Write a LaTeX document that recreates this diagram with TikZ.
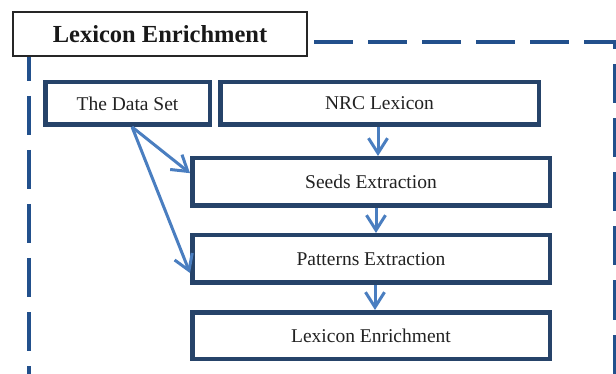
\documentclass[tikz,border=0pt]{standalone}
\usepackage{fontspec}
\setmainfont{Liberation Serif}
\usetikzlibrary{arrows.meta,calc}
\definecolor{dashblue}{HTML}{22508C}
\definecolor{boxnavy}{HTML}{264369}
\definecolor{arrblue}{HTML}{4A7EC0}
\definecolor{txt}{HTML}{222222}
\tikzset{
  dashline/.style={draw=dashblue,line width=4.5pt,dash pattern=on 39pt off 15pt},
  stepbox/.style={draw=boxnavy,fill=white,line width=4.5pt,rectangle,inner sep=0pt,
    text=txt,font=\fontsize{19.5}{23}\selectfont},
  titlebox/.style={draw=black!85,fill=white,line width=1.6pt,rectangle,inner sep=0pt,
    minimum width=294pt,minimum height=44pt,font=\bfseries\fontsize{24.5}{28}\selectfont,text=black!90},
  arr/.style={draw=arrblue,line width=3pt,-{Straight Barb[length=15pt,width=19pt]}}
}
\begin{document}
\begin{tikzpicture}[x=1pt,y=-1pt]
\useasboundingbox (0,0) rectangle (616,374);
\clip (0,0) rectangle (616,374);
% dashed frame
\draw[dashline] (29,42) -- (29,400);
\draw[dashline,dash phase=39pt] (29,42) -- (615.5,42) -- (615.5,400);
% title
\node[titlebox] (title) at (160,34) {Lexicon Enrichment};
% boxes
\node[stepbox,minimum width=164.5pt,minimum height=42.5pt] (ds) at (127.5,103.5) {The Data Set};
\node[stepbox,minimum width=318.5pt,minimum height=42.5pt] (nrc) at (379.5,103.5) {NRC Lexicon};
\node[stepbox,minimum width=357.5pt,minimum height=47.5pt] (seeds) at (371,182) {Seeds Extraction};
\node[stepbox,minimum width=357.5pt,minimum height=47.5pt] (pat) at (371,259) {Patterns Extraction};
\node[stepbox,minimum width=357.5pt,minimum height=46.5pt] (lex) at (371,335.5) {Lexicon Enrichment};
% connector helpers
\coordinate (cA) at (378,0);
\coordinate (cB) at (376,0);
\coordinate (cC) at (375,0);
\coordinate (dsout) at ($(ds.south west)!0.527!(ds.south east)$);
\coordinate (seedsin) at ($(seeds.north west)!0.33!(seeds.south west)$);
\coordinate (patin) at ($(pat.north west)!0.77!(pat.south west)$);
% arrows
\draw[arr] (nrc.south -| cA) -- (seeds.north -| cA);
\draw[arr] (seeds.south -| cB) -- (pat.north -| cB);
\draw[arr] (pat.south -| cC) -- (lex.north -| cC);
\draw[arr] (dsout) -- (seedsin);
\draw[arr] (dsout) -- (patin);
\end{tikzpicture}
\end{document}
